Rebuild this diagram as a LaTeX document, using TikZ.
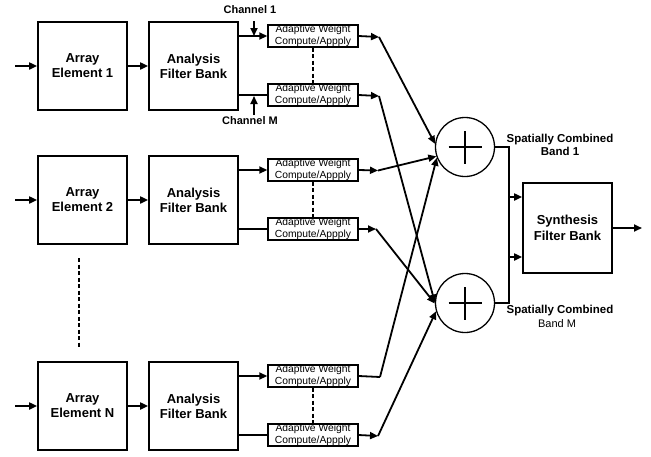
\documentclass[tikz,border=0pt]{standalone}
\usepackage{fontspec}
\setmainfont{Liberation Sans}
\usetikzlibrary{arrows.meta}
\begin{document}
\begin{tikzpicture}[x=1pt,y=-1pt,
  bigbox/.style={draw, line width=1.7pt, minimum width=89pt, minimum height=88pt, inner sep=0pt, align=center, font=\fontsize{13}{15}\selectfont\bfseries},
  awbox/.style={draw, line width=1.4pt, minimum width=90pt, minimum height=22pt, inner sep=0pt, align=center, font=\fontsize{10.3}{11.5}\selectfont},
  sumnode/.style={draw, circle, line width=1.3pt, minimum size=59pt, inner sep=0pt},
  conn/.style={line width=1.8pt},
  arr/.style={conn, -{Triangle[length=8pt,width=7pt]}},
  dashline/.style={line width=1.6pt, dash pattern=on 4pt off 2.5pt},
  lab/.style={font=\fontsize{11}{12}\selectfont\bfseries, inner sep=0pt, align=center}]
\useasboundingbox (0,0) rectangle (651,456);

\foreach \r/\dy/\el in {1/0/1, 2/134/2, 3/340/N} {
  \node[bigbox] (ae\r) at (82.5,66+\dy) {Array\\Element \el};
  \node[bigbox] (fb\r) at (193.5,66+\dy) {Analysis\\Filter Bank};
  \node[awbox] (aw\r1) at (313,36+\dy) {Adaptive Weight\\Compute/Appply};
  \node[awbox] (aw\r2) at (313,95+\dy) {Adaptive Weight\\Compute/Appply};
  \coordinate (in\r) at (15,66+\dy);
  \draw[arr] (in\r) -- (ae\r.west);
  \draw[arr] (ae\r.east) -- (fb\r.west);
  \draw[arr] (aw\r1.west -| fb\r.east) -- (aw\r1.west);
  \draw[conn] (aw\r2.west -| fb\r.east) -- (aw\r2.west);
  \draw[dashline] (aw\r1.south) -- (aw\r2.north);
}

% channel labels
\node[lab] (ch1) at (250,10) {Channel 1};
\node[lab] (chm) at (250,121) {Channel M};
\coordinate (ch1a) at (254,21);
\coordinate (ch1b) at (254,36);
\coordinate (chma) at (254,115);
\coordinate (chmb) at (254,96);
\draw[arr] (ch1a) -- (ch1b);
\draw[arr] (chma) -- (chmb);

% dashed between array elements
\coordinate (d1) at (79,258);
\coordinate (d2) at (79,348);
\draw[dashline] (d1) -- (d2);

% summing nodes
\node[sumnode] (c1) at (465,147) {};
\node[sumnode] (c2) at (465,303) {};
\foreach \c in {c1,c2} {
  \draw[line width=1.3pt] ([xshift=-16.5pt]\c.center) -- ([xshift=16.5pt]\c.center);
  \draw[line width=1.3pt] ([yshift=-16.5pt]\c.center) -- ([yshift=16.5pt]\c.center);
}

% corners
\coordinate (k11) at (379,37);
\coordinate (k12) at (379,96);
\coordinate (k21) at (378,170.5);
\coordinate (k22) at (376,229);
\coordinate (k31) at (380,377);
\coordinate (k32) at (378,436);

\draw[arr] (aw11.east) -- (k11);
\draw[arr] (aw12.east) -- (k12);
\draw[arr] (aw21.east) -- (k21);
\draw[arr] (aw22.east) -- (k22);
\draw[conn] (aw31.east) -- (k31);
\draw[arr] (aw32.east) -- (k32);

\draw[arr] (k11) -- (c1.174);
\draw[arr] (k21) -- (c1.198);
\draw[arr] (k31) -- (c1.201);
\draw[arr] (k12) -- (c2.179);
\draw[arr] (k22) -- (c2.181);
\draw[arr] (k32) -- (c2.196);

% synthesis
\node[bigbox, minimum height=90pt, font=\fontsize{13}{16.5}\selectfont\bfseries] (sfb) at (567.5,228) {Synthesis\\Filter Bank};
\coordinate (s1) at (509,147);
\coordinate (s2) at (509,303);
\draw[arr] (c1.east) -- (s1) |- ([yshift=-29pt]sfb.west);
\draw[arr] (c2.east) -- (s2) |- ([yshift=31pt]sfb.west);
\coordinate (out) at (642,228);
\draw[arr] (sfb.east) -- (out);

% band labels
\node[lab, font=\fontsize{11.5}{13.5}\selectfont\bfseries] (b1) at (560,145) {Spatially Combined\\Band 1};
\node[lab, font=\fontsize{11.5}{13}\selectfont\bfseries] (bm1) at (560,311) {Spatially Combined};
\node[lab, font=\fontsize{11}{12}\selectfont] (bm2) at (557,324) {Band M};
\end{tikzpicture}
\end{document}
